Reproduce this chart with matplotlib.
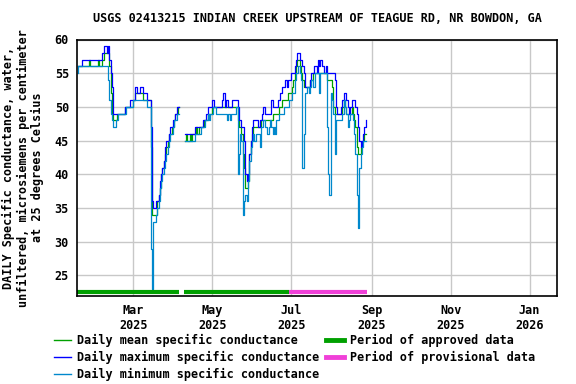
import matplotlib
matplotlib.use('Agg')
import matplotlib.pyplot as plt
import matplotlib.dates as mdates
from matplotlib.lines import Line2D
import pandas as pd

plt.rcParams['font.family'] = ['DejaVu Sans Mono']
plt.rcParams['font.weight'] = 'bold'
plt.rcParams['font.size'] = 8.5

# daily values, microsiemens/cm, first segment starts 2025-01-17
seg1_start = '2025-01-17'
seg1_max = [56, 56, 56, 56] + [57] * 15 + [58, 58, 59, 59, 58, 59, 57, 55, 53] + [49] * 9 + \
    [50] * 4 + [51] * 4 + [53, 52, 52, 52, 53, 53, 52, 52, 52, 51, 51, 51, 47, 36, 35, 35, 36, 36,
                           37, 39, 40, 41, 42, 44, 45, 45, 46, 47, 47, 48, 48, 49, 50, 50]
seg1_mean = [56] * 9 + [57] + [56] * 6 + [57, 56, 56, 57, 57, 58, 58, 58, 58, 56, 52, 49, 48, 48, 48] + \
    [49] * 6 + [50] * 6 + [51, 51] + [52] * 6 + [51] * 6 + \
    [44, 34, 34, 34, 34, 36, 37, 38, 40, 41, 42, 43, 44, 45, 46, 46, 47, 47, 48, 49, 49, 50]
seg1_min = [55] + [56] * 23 + [54, 51, 49, 48, 47, 47, 48, 48] + [49] * 6 + [50] * 5 + [51] * 11 + \
    [50, 50, 50, 29, 23, 33, 33, 34, 35, 36, 38, 39, 40, 41, 42, 43, 44, 45, 46, 46, 47, 48, 48, 49, 49]

# second segment after the early-April gap, starts 2025-04-10
seg2_start = '2025-04-10'
seg2_max = [46] * 8 + [47] * 6 + [48, 48, 48, 49, 50, 50, 50, 51, 51] + [50] * 6 + \
    [51, 52, 50, 51, 51, 50, 50, 50, 51, 51, 51, 51,
     50, 48, 48, 47, 47, 45, 40, 39, 40, 43, 45, 47,
     48, 48, 48, 48, 47, 48, 48, 49, 50,
     49, 49, 49, 49, 49, 51,
     50, 50, 50, 50, 51, 51, 52,
     53, 53, 53, 54, 53, 54, 54,
     55, 55, 55, 56, 57, 58, 58, 57, 57, 56, 55,
     53, 53, 53, 53, 54, 55, 55, 56, 56, 55, 57, 56, 57, 56, 56, 55, 56,
     55, 55, 55, 55, 55, 55, 54,
     50, 49, 49, 49, 50, 51, 52, 52, 51, 50, 49, 50, 51, 51, 51, 50, 49, 47, 45, 44, 45, 46, 47, 48]
seg2_mean = [45, 46, 45, 45, 46, 45, 46, 46, 46, 47, 46, 47, 47, 47, 47, 48, 48, 48, 49, 49, 49] + \
    [50] * 20 + [48, 47, 47, 46, 43, 41, 38, 38, 39, 43, 45, 46] + [47] * 6 + [48] * 9 + [49] * 5 + \
    [50, 50, 51, 51, 51, 51, 51, 52, 52, 52, 53, 54, 55, 56, 57, 57, 56, 55, 54,
     53, 53, 53, 53, 53, 54, 54] + [55] * 11 + [54, 54, 54, 54, 53, 50, 49] + \
    [49, 49, 49, 49, 49, 50, 51, 50, 49, 49, 49, 49, 50, 49, 48, 47, 44, 43, 43, 44, 45, 45, 46, 46]
seg2_min = [45] * 8 + [46] * 5 + [47, 47, 47, 48, 48, 49, 48, 49, 49, 50, 50] + [49] * 9 + \
    [48, 49, 48, 49, 49, 49, 49, 50,
     40, 43, 46, 45, 34, 36, 37, 36, 39, 42, 44, 45,
     46, 45, 46, 46, 46, 44, 47, 47, 48, 47, 47, 46, 47, 48, 47, 46, 47, 46, 48, 48,
     49, 49, 49, 49, 50, 50, 50, 50, 51, 51, 52, 52,
     54, 55, 55, 56, 55, 54, 41, 46, 52, 52, 53, 52, 53, 54, 53, 53, 55, 55, 55, 52, 55, 55, 55, 55, 55,
     47, 40, 37, 52, 51, 49, 43,
     48, 48, 48, 48, 48, 49, 51, 50, 49, 47, 48, 49, 49, 48, 46, 43, 37, 32, 41, 43, 44, 45, 45, 45]

approved = [('2025-01-17', '2025-04-05'), ('2025-04-10', '2025-06-29')]
provisional = [('2025-06-30', '2025-08-28')]

tick_dates = ['2025-03-01', '2025-05-01', '2025-07-01', '2025-09-01', '2025-11-01', '2026-01-01']
tick_labels = ['Mar\n2025', 'May\n2025', 'Jul\n2025', 'Sep\n2025', 'Nov\n2025', 'Jan\n2026']

c_mean = '#00a000'
c_max = '#0000ff'
c_min = '#0088cc'
c_prov = '#f040d8'

fig = plt.figure(figsize=(5.76, 3.84), dpi=100)
ax = fig.add_axes([77.3 / 576, 1 - 295.7 / 384, (556.5 - 77.3) / 576, (295.7 - 39.5) / 384])

for start, mx, mn, lo in [(seg1_start, seg1_max, seg1_mean, seg1_min),
                          (seg2_start, seg2_max, seg2_mean, seg2_min)]:
    d = pd.date_range(start, periods=len(mx), freq='D')
    ax.plot(d, mn, color=c_mean, lw=0.9, drawstyle='steps-mid')
    ax.plot(d, mx, color=c_max, lw=0.9, drawstyle='steps-mid')
    ax.plot(d, lo, color=c_min, lw=0.9, drawstyle='steps-mid')

half = pd.Timedelta(hours=12)
for a, b in approved:
    ax.plot([pd.Timestamp(a) - half, pd.Timestamp(b) + half], [22.5, 22.5], color=c_mean,
            lw=3, solid_capstyle='butt', clip_on=False)
for a, b in provisional:
    ax.plot([pd.Timestamp(a) - half, pd.Timestamp(b) + half], [22.5, 22.5], color=c_prov,
            lw=3, solid_capstyle='butt', clip_on=False)

ax.set_xlim(pd.Timestamp('2025-01-16 18:00'), pd.Timestamp('2026-01-21 19:00'))
ax.set_ylim(22, 60)
ax.set_yticks(range(25, 61, 5))
ax.set_xticks(pd.to_datetime(tick_dates))
ax.set_xticklabels(tick_labels)
ax.tick_params(length=0, pad=6)
ax.grid(True, color='#c8c8c8', lw=1)
ax.set_axisbelow(True)
for s in ax.spines.values():
    s.set_linewidth(1.2)

fig.text(317 / 576, 1 - 19 / 384, 'USGS 02413215 INDIAN CREEK UPSTREAM OF TEAGUE RD, NR BOWDON, GA',
         ha='center', va='center')
fig.text(23 / 576, 1 - 167.6 / 384,
         'DAILY Specific conductance, water,\nunfiltered, microsiemens per centimeter\nat 25 degrees Celsius',
         rotation=90, ha='center', va='center', multialignment='center', linespacing=1.15)

handles = [Line2D([], [], color=c_mean, lw=1),
           Line2D([], [], color=c_max, lw=1),
           Line2D([], [], color=c_min, lw=1),
           Line2D([], [], color=c_mean, lw=3.5),
           Line2D([], [], color=c_prov, lw=3.5)]
labels = ['Daily mean specific conductance', 'Daily maximum specific conductance',
          'Daily minimum specific conductance', 'Period of approved data', 'Period of provisional data']
fig.legend(handles, labels, ncol=2, loc='upper left', bbox_to_anchor=(53.5 / 576, 1 - 334 / 384),
           frameon=False, borderpad=0, handlelength=1.5, handletextpad=0.5, columnspacing=0.6,
           labelspacing=0.33, borderaxespad=0)

fig.savefig('out.png', dpi=100)
